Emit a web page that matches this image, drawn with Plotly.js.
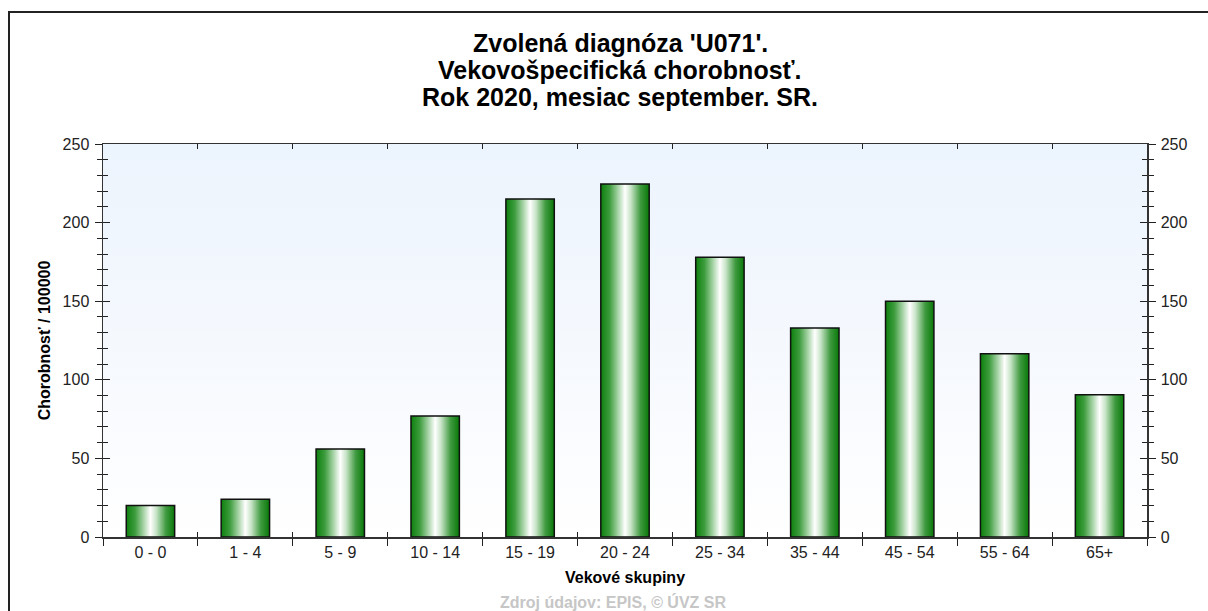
<!DOCTYPE html>
<html>
<head>
<meta charset="utf-8">
<script src="https://cdn.plot.ly/plotly-3.0.1.min.js"></script>
<style>
  html, body { margin: 0; padding: 0; background: #fff; }
  #wrap { position: relative; width: 1208px; height: 611px; overflow: hidden; }
  #chart { width: 1208px; height: 611px; }
  #frame { position: absolute; left: 8px; top: 11px; width: 1300px; height: 700px;
           border-left: 2px solid #222; border-top: 2px solid #222; pointer-events: none; }
</style>
</head>
<body>
<div id="wrap">
  <div id="chart"></div>
  <div id="frame"></div>
</div>
<script>
const categories = ["0 - 0", "1 - 4", "5 - 9", "10 - 14", "15 - 19", "20 - 24", "25 - 34", "35 - 44", "45 - 54", "55 - 64", "65+"];
const values = [20, 24, 56, 77, 215, 224.5, 178, 133, 150, 116.5, 90.5];
const yTicks = [0, 50, 100, 150, 200, 250];
const titleLines = ["Zvolená diagnóza 'U071'.", "Vekovošpecifická chorobnosť.", "Rok 2020, mesiac september. SR."];
const sourceText = "Zdroj údajov: EPIS, © ÚVZ SR";

const FONT = "Arial, 'Liberation Sans', sans-serif";
const tickFont = { family: FONT, size: 16, color: "#222" };

// plot area in pixels: left 103, right 1147, top 144, bottom 537
const PL = 103, PR = 1147, PT = 144, PB = 537;
function paperY(px) { return (PB - px) / (PB - PT); }
function paperX(px) { return (px - PL) / (PR - PL); }

const mainTrace = {
  type: "bar",
  x: categories,
  y: values,
  marker: { color: "#2a8f2a", line: { color: "#111", width: 1.5 } },
  hoverinfo: "none"
};
// invisible helpers so that the overlaying axes are drawn
const helper2 = { type: "scatter", mode: "none", x: categories, y: values, xaxis: "x2", yaxis: "y2", hoverinfo: "none", showlegend: false };
const helper3 = { type: "scatter", mode: "none", x: categories, y: values, xaxis: "x", yaxis: "y3", hoverinfo: "none", showlegend: false };

const baseY = {
  range: [0, 250], tickvals: yTicks, ticktext: yTicks.map(String),
  showgrid: false, zeroline: false, fixedrange: true, autorange: false
};
const minorOut = { dtick: 10, ticks: "outside", ticklen: 5, tickwidth: 1, tickcolor: "#222" };
const minorIn = { dtick: 10, ticks: "inside", ticklen: 5, tickwidth: 1, tickcolor: "#222" };

const annotations = titleLines.map(function (t, i) {
  return {
    text: "<b>" + t + "</b>", xref: "paper", yref: "paper", x: paperX(620), y: paperY(43 + 27 * i),
    xanchor: "center", yanchor: "middle", showarrow: false,
    font: { family: FONT, size: 25, color: "#000" }
  };
});
annotations.push({
  text: "<b>" + sourceText + "</b>",
  xref: "paper", yref: "paper", x: paperX(613), y: paperY(602), xanchor: "center", yanchor: "middle",
  showarrow: false, font: { family: FONT, size: 16, color: "#c6c6c6" }
});

const layout = {
  width: 1208, height: 611,
  margin: { l: PL, r: 1208 - PR, t: PT, b: 611 - PB },
  paper_bgcolor: "rgba(0,0,0,0)",
  plot_bgcolor: "#f3f8fd",
  showlegend: false,
  bargap: 0.49,
  xaxis: {
    type: "category", tickson: "boundaries", ticks: "outside", ticklen: 7, tickwidth: 1,
    tickcolor: "#222", showline: true, linecolor: "#333", linewidth: 1.5,
    tickfont: tickFont, showgrid: false, zeroline: false, fixedrange: true,
    title: { text: "<b>Vekové skupiny</b>", font: { family: FONT, size: 16, color: "#000" }, standoff: 12 }
  },
  xaxis2: {
    overlaying: "x", type: "linear", range: [0, 11], autorange: false, tick0: 0, dtick: 1,
    ticks: "inside", ticklen: 5, tickwidth: 1, tickcolor: "#222",
    showline: true, linecolor: "#333", linewidth: 1.5, mirror: "ticks",
    showticklabels: false, showgrid: false, zeroline: false, fixedrange: true
  },
  yaxis: Object.assign({}, baseY, {
    side: "left", ticks: "outside", ticklen: 7, tickwidth: 1, tickcolor: "#222",
    showline: true, linecolor: "#333", linewidth: 1.5, minor: minorOut,
    tickfont: tickFont, ticklabelstandoff: 2,
    title: { text: "<b>Chorobnosť / 100000</b>", font: { family: FONT, size: 16, color: "#000" }, standoff: 8 }
  }),
  yaxis2: Object.assign({}, baseY, {
    overlaying: "y", side: "right", ticks: "outside", ticklen: 7, tickwidth: 1, tickcolor: "#222",
    showline: true, linecolor: "#333", linewidth: 1.5, minor: minorOut,
    tickfont: tickFont, ticklabelstandoff: 2
  }),
  yaxis3: Object.assign({}, baseY, {
    overlaying: "y", side: "left", ticks: "inside", ticklen: 7, tickwidth: 1, tickcolor: "#222",
    mirror: "ticks", showline: false, showticklabels: false, minor: minorIn
  }),
  annotations: annotations
};

Plotly.newPlot("chart", [mainTrace, helper2, helper3], layout, { staticPlot: true, displayModeBar: false }).then(function (gd) {
  const svg = gd.querySelector("svg.main-svg");
  const NS = "http://www.w3.org/2000/svg";
  let defs = svg.querySelector("defs");
  if (!defs) { defs = document.createElementNS(NS, "defs"); svg.insertBefore(defs, svg.firstChild); }
  function grad(id, vertical, stops) {
    const g = document.createElementNS(NS, "linearGradient");
    g.setAttribute("id", id);
    g.setAttribute("x1", "0"); g.setAttribute("y1", "0");
    g.setAttribute("x2", vertical ? "0" : "1"); g.setAttribute("y2", vertical ? "1" : "0");
    stops.forEach(function (s) {
      const st = document.createElementNS(NS, "stop");
      st.setAttribute("offset", s[0]); st.setAttribute("stop-color", s[1]);
      g.appendChild(st);
    });
    defs.appendChild(g);
  }
  grad("barGrad", false, [["0", "#0d800d"], ["0.18", "#3d9c3d"], ["0.36", "#a8d4a8"], ["0.5", "#ffffff"], ["0.62", "#c8e4c8"], ["0.82", "#3f9a3f"], ["1", "#087808"]]);
  grad("bgGrad", true, [["0", "#ecf4fd"], ["0.55", "#f6f9fe"], ["1", "#ffffff"]]);
  gd.querySelectorAll(".barlayer .point path").forEach(function (p) { p.style.fill = "url(#barGrad)"; });
  gd.querySelectorAll(".bglayer rect.bg").forEach(function (r) { r.style.fill = "url(#bgGrad)"; });
});
</script>
</body>
</html>
